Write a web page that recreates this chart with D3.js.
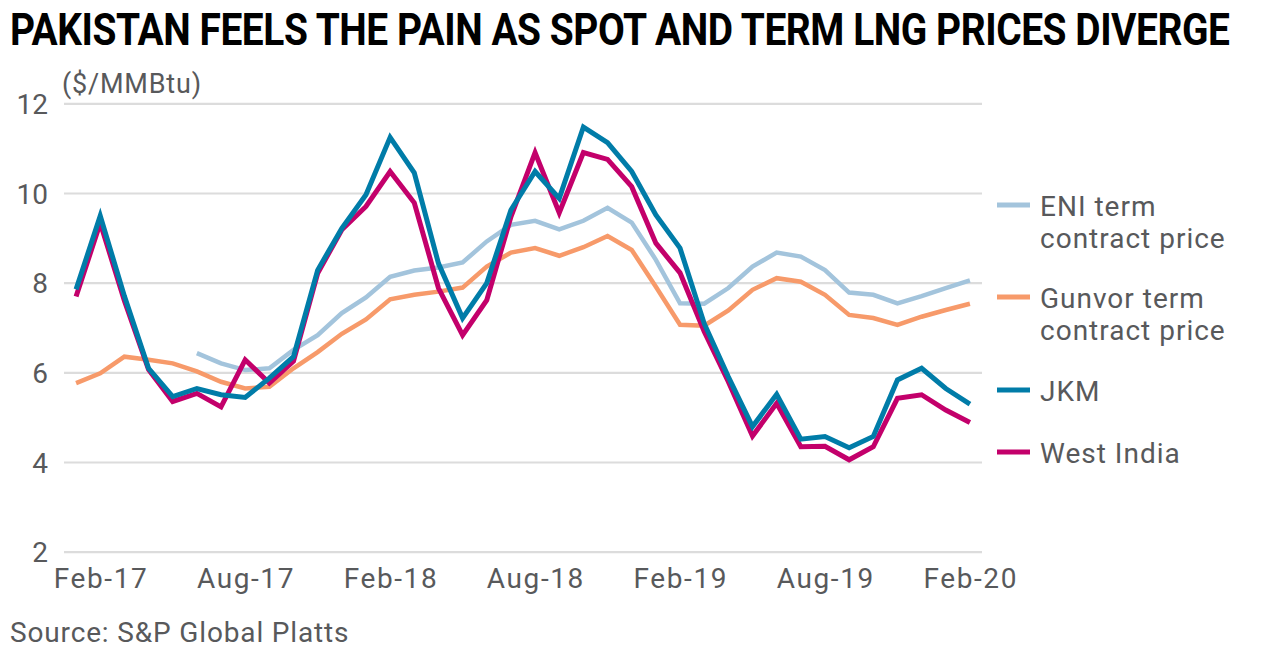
<!DOCTYPE html>
<html>
<head>
<meta charset="utf-8">
<script src="https://cdn.jsdelivr.net/npm/d3@7"></script>
<style>
  html, body { margin: 0; padding: 0; background: #fff; }
  svg { display: block; }
  text { font-family: Roboto, "Noto Sans", sans-serif; fill: #58595b; }
</style>
</head>
<body>
<svg id="chart" width="1272" height="657"></svg>
<script>
// ---- Data ----
const months = [
  "Jan-17","Feb-17","Mar-17","Apr-17","May-17","Jun-17","Jul-17","Aug-17","Sep-17","Oct-17","Nov-17","Dec-17",
  "Jan-18","Feb-18","Mar-18","Apr-18","May-18","Jun-18","Jul-18","Aug-18","Sep-18","Oct-18","Nov-18","Dec-18",
  "Jan-19","Feb-19","Mar-19","Apr-19","May-19","Jun-19","Jul-19","Aug-19","Sep-19","Oct-19","Nov-19","Dec-19",
  "Jan-20","Feb-20"
];
const tickLabels = ["Feb-17","Aug-17","Feb-18","Aug-18","Feb-19","Aug-19","Feb-20"];
const yTicks = [2, 4, 6, 8, 10, 12];

const eniTerm = [
  null, null, null, null, null, 6.43, 6.20, 6.05, 6.09, 6.50, 6.83, 7.32,
  7.67, 8.13, 8.27, 8.34, 8.45, 8.92, 9.29, 9.38, 9.19, 9.38, 9.67, 9.34,
  8.51, 7.54, 7.53, 7.88, 8.36, 8.67, 8.58, 8.28, 7.78, 7.73, 7.54, 7.70,
  7.88, 8.05
];
const gunvorTerm = [
  5.76, 5.98, 6.35, 6.28, 6.20, 6.02, 5.79, 5.64, 5.68, 6.09, 6.45, 6.86,
  7.18, 7.63, 7.73, 7.80, 7.89, 8.36, 8.67, 8.77, 8.60, 8.79, 9.04, 8.73,
  7.91, 7.06, 7.04, 7.38, 7.84, 8.10, 8.02, 7.73, 7.28, 7.21, 7.06, 7.24,
  7.39, 7.53
];
const jkm = [
  7.85, 9.49, 7.70, 6.09, 5.46, 5.64, 5.50, 5.44, 5.87, 6.35, 8.28, 9.21,
  9.96, 11.24, 10.45, 8.43, 7.21, 7.99, 9.62, 10.48, 9.88, 11.47, 11.12, 10.48,
  9.51, 8.77, 7.09, 5.90, 4.79, 5.51, 4.51, 4.57, 4.32, 4.57, 5.83, 6.09,
  5.64, 5.29
];
const westIndia = [
  7.69, 9.33, 7.60, 6.06, 5.35, 5.53, 5.23, 6.28, 5.76, 6.25, 8.21, 9.18,
  9.70, 10.48, 9.78, 7.88, 6.83, 7.61, 9.47, 10.90, 9.56, 10.90, 10.75, 10.14,
  8.88, 8.22, 6.91, 5.79, 4.58, 5.31, 4.34, 4.35, 4.05, 4.34, 5.42, 5.50,
  5.16, 4.88
];

const seriesNames = ["ENI term\ncontract price", "Gunvor term\ncontract price", "JKM", "West India"];
const seriesColors = ["#a3c4dc", "#f79a6a", "#007ca8", "#c3006b"];
const seriesWidths = [4.5, 4.5, 5, 5];
const dataBySeries = [eniTerm, gunvorTerm, jkm, westIndia];

// ---- Chart ----
const svg = d3.select("#chart");

const x = d3.scaleBand().domain(months).range([64, 982]).paddingInner(0).paddingOuter(0);
const y = d3.scaleLinear().domain([2, 12]).range([551.7, 103.3]);
const cx = m => x(m) + x.bandwidth() / 2;

// Title (bold, horizontally condensed to fit the reference width)
const title = svg.append("text")
  .attr("x", 0).attr("y", 0)
  .style("font-family", "Roboto, 'Noto Sans', sans-serif")
  .style("font-weight", "bold").style("font-size", "45px").style("fill", "#000")
  .style("letter-spacing", "-0.5px")
  .text("PAKISTAN FEELS THE PAIN AS SPOT AND TERM LNG PRICES DIVERGE");
const tw = title.node().getComputedTextLength();
title.attr("transform", `translate(10,45) scale(${1220 / tw},1)`);

// Unit label
svg.append("text")
  .attr("x", 62).attr("y", 93)
  .style("font-size", "27px").style("letter-spacing", "0.8px")
  .text("($/MMBtu)");

// Gridlines + y labels
const yAxis = d3.axisLeft(y).tickValues(yTicks).tickSize(-(982 - 64)).tickPadding(16).tickFormat(d3.format("d"));
const yg = svg.append("g").attr("transform", "translate(64,0)").call(yAxis);
yg.select(".domain").remove();
yg.selectAll(".tick line").attr("stroke", "#dcdcdc").attr("stroke-width", 2.2);
yg.selectAll(".tick text")
  .attr("font-family", null)
  .style("font-size", "28px").style("fill", "#58595b")
  .attr("dy", "0.36em");

// X axis labels
const xAxis = d3.axisBottom(x).tickValues(tickLabels).tickSize(0).tickPadding(0);
const xg = svg.append("g").attr("transform", "translate(0,567)").call(xAxis);
xg.select(".domain").remove();
xg.selectAll(".tick text")
  .attr("font-family", null)
  .style("font-size", "28px").style("fill", "#58595b")
  .style("letter-spacing", "1.6px")
  .attr("dx", "0.8px")
  .attr("dy", "0.76em");

// Lines
const line = d3.line()
  .defined(d => d.v != null)
  .x(d => cx(d.m))
  .y(d => y(d.v));

const drawOrder = [0, 1, 3, 2]; // ENI, Gunvor, West India, JKM on top
drawOrder.forEach(i => {
  const pts = months.map((m, j) => ({ m, v: dataBySeries[i][j] }));
  svg.append("path")
    .attr("d", line(pts))
    .attr("fill", "none")
    .attr("stroke", seriesColors[i])
    .attr("stroke-width", seriesWidths[i])
    .attr("stroke-linejoin", "miter")
    .attr("stroke-miterlimit", 4);
});

// Legend
const legendY = [205, 297, 390, 452];
const lg = svg.append("g");
seriesNames.forEach((name, i) => {
  const g = lg.append("g");
  g.append("line")
    .attr("x1", 997).attr("x2", 1030)
    .attr("y1", legendY[i]).attr("y2", legendY[i])
    .attr("stroke", seriesColors[i]).attr("stroke-width", 5);
  name.split("\n").forEach((ln, k) => {
    g.append("text").attr("x", 1040).attr("y", legendY[i] + 11 + k * 32)
      .style("font-size", "28px").style("letter-spacing", "1px")
      .text(ln);
  });
});

// Source
svg.append("text")
  .attr("x", 10).attr("y", 642)
  .style("font-size", "28px").style("letter-spacing", "0.85px")
  .text("Source: S&P Global Platts");
</script>
</body>
</html>
